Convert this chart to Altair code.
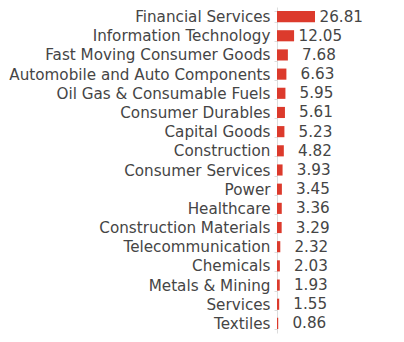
import altair as alt
import pandas as pd

sectors = [
    "Financial Services", "Information Technology", "Fast Moving Consumer Goods",
    "Automobile and Auto Components", "Oil Gas & Consumable Fuels", "Consumer Durables",
    "Capital Goods", "Construction", "Consumer Services", "Power", "Healthcare",
    "Construction Materials", "Telecommunication", "Chemicals", "Metals & Mining",
    "Services", "Textiles",
]
weights = [26.81, 12.05, 7.68, 6.63, 5.95, 5.61, 5.23, 4.82, 3.93, 3.45, 3.36,
           3.29, 2.32, 2.03, 1.93, 1.55, 0.86]

df = pd.DataFrame({"sector": sectors, "weight": weights})
df["label"] = [f"{v:.2f}" for v in weights]

FONT = "DejaVu Sans"
TEXT = "#454545"
RED = "#dc3a2c"
FS = 15.2

y = alt.Y("sector:N", sort=sectors, title=None,
          scale=alt.Scale(paddingInner=0.42, paddingOuter=0.21),
          axis=alt.Axis(domainColor="#dcdcdc", tickColor="#dcdcdc", tickSize=3,
                        tickBand="extent", labelFont=FONT, labelFontSize=FS,
                        labelColor=TEXT, labelPadding=4, grid=False, labelLimit=400))
x = alt.X("weight:Q", title=None, scale=alt.Scale(domain=[0, 70.55], nice=False),
          axis=None)

bars = alt.Chart(df).mark_bar(color=RED).encode(x=x, y=y)
labels = alt.Chart(df).mark_text(align="right", dx=48, font=FONT, fontSize=FS,
                                 color=TEXT, baseline="middle").encode(
    x=x, y=alt.Y("sector:N", sort=sectors), text="label:N")

chart = (bars + labels).properties(
    width=100, height=326,
    autosize=alt.AutoSizeParams(type="none"),
    padding={"left": 277, "top": 7, "right": 27, "bottom": 9},
).configure_view(stroke=None)

chart.save("out.html", embed_options={"renderer": "svg", "actions": False})
